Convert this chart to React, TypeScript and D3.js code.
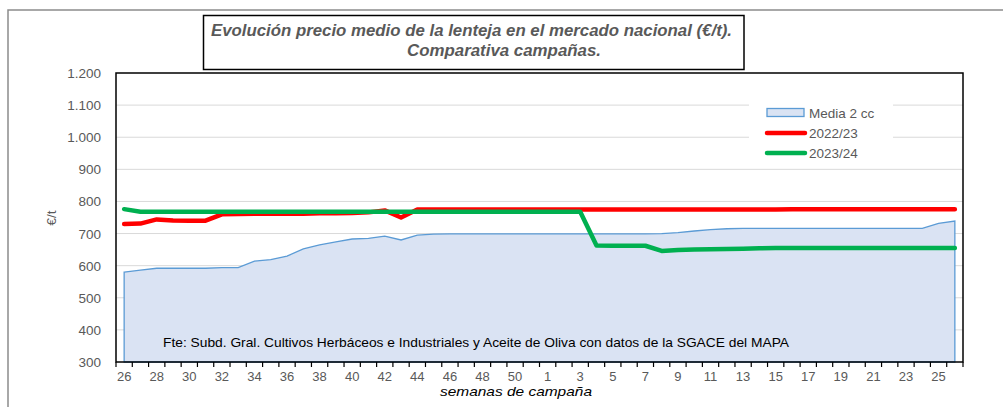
import React, { useEffect, useRef } from "react";
import * as d3 from "d3";

// campaign weeks (week 26 of one year to week 26 of the next)
const weeks = [
  26, 27, 28, 29, 30, 31, 32, 33, 34, 35, 36, 37, 38, 39, 40, 41, 42, 43, 44, 45, 46, 47, 48, 49, 50, 51,
  1, 2, 3, 4, 5, 6, 7, 8, 9, 10, 11, 12, 13, 14, 15, 16, 17, 18, 19, 20, 21, 22, 23, 24, 25, 26,
];

const media2cc = [
  580, 586, 592, 592, 592, 592, 594, 594, 614, 619, 630, 652, 665, 674, 683, 685, 692, 680, 695, 698,
  699, 699, 699, 699, 699, 699, 699, 699, 699, 699, 699, 699, 699,
  700, 703, 708, 712, 715,
  716, 716, 716, 716, 716, 716, 716, 716, 716, 716, 716, 716,
  732, 739,
];

const camp2223 = [
  730, 731, 744, 741, 740, 740, 760, 761, 762, 762, 762, 762, 763, 763, 764, 766, 772, 750, 775,
  775, 775, 775, 775, 775, 775, 775, 775, 775, 775, 775, 775, 775, 775, 775, 775, 775, 775, 775, 775, 775, 775,
  776, 776, 776, 776, 776, 776, 776, 776, 776, 776, 776,
];

const camp2324 = [
  776,
  768, 768, 768, 768, 768, 768, 768, 768, 768, 768, 768, 768, 768, 768, 768, 768, 768, 768, 768, 768,
  768, 768, 768, 768, 768, 768, 768, 768,
  663, 662, 662, 662,
  646, 649, 650, 651, 652, 653, 654,
  655, 655, 655, 655, 655, 655, 655, 655, 655, 655, 655, 655,
];

const yTicks = [300, 400, 500, 600, 700, 800, 900, 1000, 1100, 1200];

const FONT = "'Liberation Sans', Arial, sans-serif";
const GRAY = "#595959";

export default function App() {
  const ref = useRef<SVGSVGElement>(null);

  useEffect(() => {
    const svg = d3.select(ref.current);
    svg.selectAll("*").remove();

    const left = 116, right = 963, top = 73, bottom = 362;

    const x = d3
      .scaleBand<number>()
      .domain(d3.range(weeks.length))
      .range([left, right]);
    const cx = (i: number) => (x(i) as number) + x.bandwidth() / 2;

    const y = d3.scaleLinear().domain([300, 1200]).range([bottom, top]);

    // outer frame
    svg.append("path")
      .attr("d", `M8,${407} L8,10 L1003,10`)
      .attr("fill", "none")
      .attr("stroke", "#8c8c8c")
      .attr("stroke-width", 1.5);

    // gridlines
    svg.append("g")
      .selectAll("line")
      .data(yTicks.slice(1, -1))
      .enter()
      .append("line")
      .attr("x1", left)
      .attr("x2", right)
      .attr("y1", d => y(d))
      .attr("y2", d => y(d))
      .attr("stroke", "#d9d9d9")
      .attr("stroke-width", 1);

    // y labels
    const fmt = (v: number) => d3.format(",")(v).replace(",", ".");
    svg.append("g")
      .selectAll("text")
      .data(yTicks)
      .enter()
      .append("text")
      .attr("x", 101)
      .attr("y", d => y(d) + 5)
      .attr("text-anchor", "end")
      .attr("font-family", FONT)
      .attr("font-size", 13.5)
      .attr("fill", GRAY)
      .text(d => fmt(d));

    svg.append("text")
      .attr("transform", "translate(56,218) rotate(-90)")
      .attr("text-anchor", "middle")
      .attr("font-family", FONT)
      .attr("font-size", 13.5)
      .attr("fill", GRAY)
      .text("€/t");

    // Media 2 cc area
    const area = d3.area<number>()
      .x((_, i) => cx(i))
      .y0(y(300))
      .y1(d => y(d));
    svg.append("path")
      .datum(media2cc)
      .attr("d", area)
      .attr("fill", "#dae3f3")
      .attr("stroke", "#5b9bd5")
      .attr("stroke-width", 1.3);

    // source note
    svg.append("text")
      .attr("x", 163)
      .attr("y", 347)
      .attr("font-family", FONT)
      .attr("font-size", 13)
      .attr("fill", "#000")
      .attr("textLength", 626)
      .attr("lengthAdjust", "spacingAndGlyphs")
      .text("Fte: Subd. Gral. Cultivos Herbáceos e Industriales y Aceite de Oliva con datos de la SGACE del MAPA");

    const line = d3.line<number>()
      .x((_, i) => cx(i))
      .y(d => y(d));

    svg.append("path")
      .datum(camp2223)
      .attr("d", line)
      .attr("fill", "none")
      .attr("stroke", "#ff0000")
      .attr("stroke-width", 4.5)
      .attr("stroke-linejoin", "round")
      .attr("stroke-linecap", "round");

    svg.append("path")
      .datum(camp2324)
      .attr("d", line)
      .attr("fill", "none")
      .attr("stroke", "#00b050")
      .attr("stroke-width", 4.5)
      .attr("stroke-linejoin", "round")
      .attr("stroke-linecap", "round");

    // plot border
    svg.append("rect")
      .attr("x", left)
      .attr("y", top)
      .attr("width", right - left)
      .attr("height", bottom - top)
      .attr("fill", "none")
      .attr("stroke", "#000")
      .attr("stroke-width", 1.5);

    // x ticks at category boundaries
    const bounds = d3.range(weeks.length + 1).map(i => left + i * x.step());
    svg.append("g")
      .selectAll("line")
      .data(bounds)
      .enter()
      .append("line")
      .attr("x1", d => d)
      .attr("x2", d => d)
      .attr("y1", bottom)
      .attr("y2", bottom + 5)
      .attr("stroke", "#000")
      .attr("stroke-width", 1.2);

    svg.append("g")
      .selectAll("text")
      .data(weeks.map((w, i) => ({ w, i })).filter(d => d.i % 2 === 0))
      .enter()
      .append("text")
      .attr("x", d => cx(d.i))
      .attr("y", 381)
      .attr("text-anchor", "middle")
      .attr("font-family", FONT)
      .attr("font-size", 13)
      .attr("fill", GRAY)
      .text(d => d.w);

    svg.append("text")
      .attr("x", 440)
      .attr("y", 396)
      .attr("font-family", FONT)
      .attr("font-size", 13.5)
      .attr("font-style", "italic")
      .attr("fill", "#000")
      .attr("textLength", 152)
      .attr("lengthAdjust", "spacingAndGlyphs")
      .text("semanas de campaña");

    // legend
    const lg = svg.append("g");
    lg.append("rect")
      .attr("x", 749)
      .attr("y", 99)
      .attr("width", 144)
      .attr("height", 64)
      .attr("fill", "#fff");
    lg.append("rect")
      .attr("x", 767)
      .attr("y", 108.5)
      .attr("width", 37)
      .attr("height", 8)
      .attr("fill", "#dae3f3")
      .attr("stroke", "#5b9bd5")
      .attr("stroke-width", 1.3);
    const items = [
      { label: "2022/23", color: "#ff0000", yy: 133 },
      { label: "2023/24", color: "#00b050", yy: 153 },
    ];
    lg.selectAll("line.item")
      .data(items)
      .enter()
      .append("line")
      .attr("x1", 767)
      .attr("x2", 805)
      .attr("y1", d => d.yy)
      .attr("y2", d => d.yy)
      .attr("stroke", d => d.color)
      .attr("stroke-width", 4.5)
      .attr("stroke-linecap", "round");
    lg.selectAll("text")
      .data([{ label: "Media 2 cc", yy: 113 }, ...items])
      .enter()
      .append("text")
      .attr("x", 809)
      .attr("y", d => d.yy + 5)
      .attr("font-family", FONT)
      .attr("font-size", 13.5)
      .attr("fill", GRAY)
      .text(d => d.label);

    // title box
    svg.append("rect")
      .attr("x", 203.5)
      .attr("y", 15.5)
      .attr("width", 540.5)
      .attr("height", 54)
      .attr("fill", "#fff")
      .attr("stroke", "#000")
      .attr("stroke-width", 1.5);
    svg.append("text")
      .attr("x", 211)
      .attr("y", 36)
      .attr("font-family", FONT)
      .attr("font-size", 16)
      .attr("font-style", "italic")
      .attr("font-weight", "bold")
      .attr("fill", GRAY)
      .attr("textLength", 521)
      .attr("lengthAdjust", "spacingAndGlyphs")
      .text("Evolución precio medio de la lenteja en el mercado nacional (€/t).");
    svg.append("text")
      .attr("x", 407)
      .attr("y", 56)
      .attr("font-family", FONT)
      .attr("font-size", 16)
      .attr("font-style", "italic")
      .attr("font-weight", "bold")
      .attr("fill", GRAY)
      .attr("textLength", 194)
      .attr("lengthAdjust", "spacingAndGlyphs")
      .text("Comparativa campañas.");
  }, []);

  return (
    <svg
      ref={ref}
      width={1003}
      height={407}
      style={{ position: "absolute", left: 0, top: 0, background: "#fff" }}
    />
  );
}
